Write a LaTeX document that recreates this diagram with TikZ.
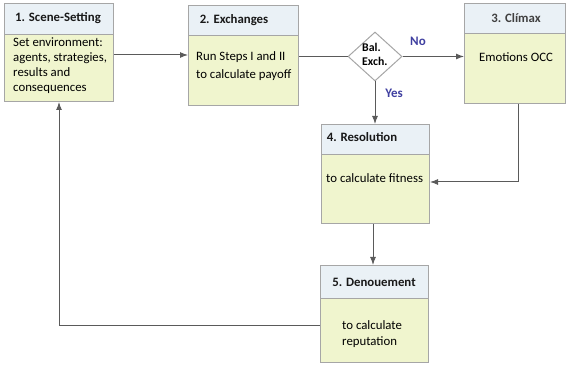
\documentclass[tikz,border=0pt]{standalone}
\usepackage{fontspec}
\setmainfont{Carlito}
\usetikzlibrary{shapes.geometric,arrows.meta}
\definecolor{hdrfill}{HTML}{EAF1F6}
\definecolor{bodyfill}{HTML}{F0F5CE}
\definecolor{boxline}{HTML}{A6A6A6}
\definecolor{connline}{HTML}{5A5A5A}
\definecolor{lblcol}{HTML}{3F3FA0}
\tikzset{
  hdr/.style={draw=boxline,fill=hdrfill,line width=1pt,anchor=north west,inner sep=0pt},
  bodybox/.style={draw=boxline,fill=bodyfill,line width=1pt,anchor=north west,inner sep=0pt},
  htext/.style={font=\fontsize{12.8}{15}\selectfont\bfseries,text=black!90,inner sep=0pt},
  btext/.style={font=\fontsize{12.8}{15}\selectfont,align=left,inner sep=0pt,anchor=north west},
  conn/.style={draw=connline,line width=1pt},
  arr/.style={conn,-{Latex[length=8pt,width=6pt]}},
  lbl/.style={font=\fontsize{13}{15}\selectfont\bfseries,text=lblcol,inner sep=0pt}
}
\begin{document}
\begin{tikzpicture}[x=1pt,y=-1pt]
\useasboundingbox (0,0) rectangle (566,366);
% box 1
\node[hdr,minimum width=109pt,minimum height=31pt] (h1) at (4,3) {};
\node[bodybox,minimum width=109pt,minimum height=67pt] (b1) at (4,34) {};
\node[htext] (t1) at (58,18) {1. Scene-Setting};
\node[btext] (s1) at (13,37.5) {Set environment:\\agents, strategies,\\results and\\consequences};
% box 2
\node[hdr,minimum width=110pt,minimum height=30pt] (h2) at (188,5) {};
\node[bodybox,minimum width=110pt,minimum height=70pt] (b2) at (188,35) {};
\node[htext] (t2) at (234,20) {2. Exchanges};
\node[btext,font=\fontsize{12.8}{18}\selectfont] (s2) at (196,51.5) {Run Steps I and II\\to calculate payoff};
% diamond
\node[diamond,draw=boxline,fill=white,line width=1pt,minimum width=54pt,minimum height=49pt,inner sep=0pt] (d) at (375,56.5) {};
\node[font=\fontsize{11.8}{14}\selectfont\bfseries,align=left,inner sep=0pt,anchor=north west] (dt) at (362,43.5) {Bal.\\Exch.};
% box 3
\node[hdr,minimum width=101pt,minimum height=30pt] (h3) at (464,3) {};
\node[bodybox,minimum width=101pt,minimum height=70pt] (b3) at (464,33) {};
\node[htext,text=black!75] (t3) at (516,18) {3. Clímax};
\node[btext,anchor=center] (s3) at (516,57) {Emotions OCC};
% box 4
\node[hdr,minimum width=108pt,minimum height=30pt] (h4) at (321,124) {};
\node[bodybox,minimum width=108pt,minimum height=69pt] (b4) at (321,154) {};
\node[htext] (t4) at (362,137) {4. Resolution};
\node[btext,anchor=west] (s4) at (326,178) {to calculate fitness};
% box 5
\node[hdr,minimum width=108pt,minimum height=33pt] (h5) at (320,265) {};
\node[bodybox,minimum width=108pt,minimum height=64pt] (b5) at (320,298) {};
\node[htext] (t5) at (374,282) {5. Denouement};
\node[btext,font=\fontsize{12.8}{16}\selectfont] (s5) at (342,320.5) {to calculate\\reputation};
% connectors
\coordinate (c12) at (0,55);
\draw[arr] (b1.east |- c12) -- (b2.west |- c12);
\draw[conn] (b2.east |- d.west) -- (d.west);
\draw[arr] (d.east) -- (b3.west |- d.east);
\node[lbl] (no) at (418,41) {No};
\draw[arr] (d.south) -- (d.south |- h4.north);
\node[lbl] (yes) at (394,93) {Yes};
\coordinate (c34) at (518,182);
\draw[arr] (b3.south -| c34) |- (b4.east |- c34);
\coordinate (c45) at (373,0);
\draw[arr] (b4.south -| c45) -- (h5.north -| c45);
\coordinate (c51) at (59,326);
\draw[arr] (b5.west |- c51) -| (b1.south -| c51);
\end{tikzpicture}
\end{document}
